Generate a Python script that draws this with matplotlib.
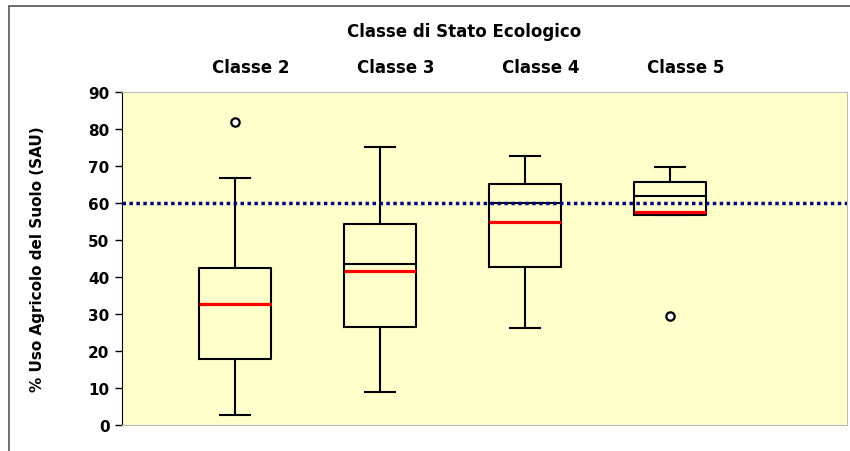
import matplotlib.pyplot as plt
from matplotlib.patches import Rectangle

plt.rcParams['font.family'] = ['DejaVu Sans']
plt.rcParams['font.weight'] = 'bold'

# Data
classes = ["Classe 2", "Classe 3", "Classe 4", "Classe 5"]
whislo = [2.7, 8.9, 26.2, 56.8]
q1 = [17.8, 26.5, 42.7, 56.8]
med = [32.7, 43.5, 60.0, 61.9]     # black line
means = [32.7, 41.6, 55.0, 57.6]   # red line
q3 = [42.5, 54.3, 65.1, 65.7]
whishi = [66.7, 75.1, 72.6, 69.7]
outliers = [[81.9], [], [], [29.5]]
threshold = 60

stats = []
for i, name in enumerate(classes):
    stats.append(dict(label=name, whislo=whislo[i], q1=q1[i], med=med[i],
                      mean=means[i], q3=q3[i], whishi=whishi[i], fliers=outliers[i]))

fig = plt.figure(figsize=(8.5, 4.52), dpi=100)
ax = fig.add_axes([122/850, 1 - 426/452, 725/850, 333/452])
ax.set_facecolor('#FFFFCC')

ax.bxp(stats, positions=[1, 2, 3, 4], widths=0.5, showmeans=True, meanline=True,
       boxprops=dict(color='black', linewidth=1.5),
       whiskerprops=dict(color='black', linewidth=1.5),
       capprops=dict(color='black', linewidth=1.5),
       medianprops=dict(color='black', linewidth=1.5),
       meanprops=dict(color='#FF0000', linewidth=2.3, linestyle='-'),
       flierprops=dict(marker='o', markerfacecolor='white', markeredgecolor='black',
                       markersize=6, markeredgewidth=1.6),
       capwidths=0.21)

ax.axhline(threshold, color='#000080', linestyle=(0, (1, 1)), linewidth=2.5, zorder=5)

ax.set_xlim(1 - 113/145, 4 + 177/145)
ax.set_ylim(0, 90)
ax.set_yticks(range(0, 91, 10))
ax.set_xticks([])
ax.tick_params(axis='y', direction='out', length=5, width=1, labelsize=11, pad=4)
for lab in ax.get_yticklabels():
    lab.set_fontweight('bold')
ax.spines['left'].set_color('black')
for s in ['top', 'right', 'bottom']:
    ax.spines[s].set_color('#BBBBBB')
ax.set_ylabel('% Uso Agricolo del Suolo (SAU)', fontsize=11, fontweight='bold')
ax.yaxis.set_label_coords((45 - 122)/725, 0.5)

# column headers
for i, name in enumerate(classes):
    ax.annotate(name, xy=(i + 1, 1), xycoords=('data', 'axes fraction'),
                xytext=(11.5, 18), textcoords='offset points', ha='center', va='center',
                fontsize=12, fontweight='bold')

fig.text(464/850, 1 - 32/452, 'Classe di Stato Ecologico', ha='center', va='center',
         fontsize=12, fontweight='bold')

# outer chart frame
fig.patches.append(Rectangle((9/850, -0.1), 1.2, 1 - 7/452 + 0.1, transform=fig.transFigure,
                             fill=False, edgecolor='#555555', linewidth=1.2, zorder=0))

fig.savefig('out.png', dpi=100)
